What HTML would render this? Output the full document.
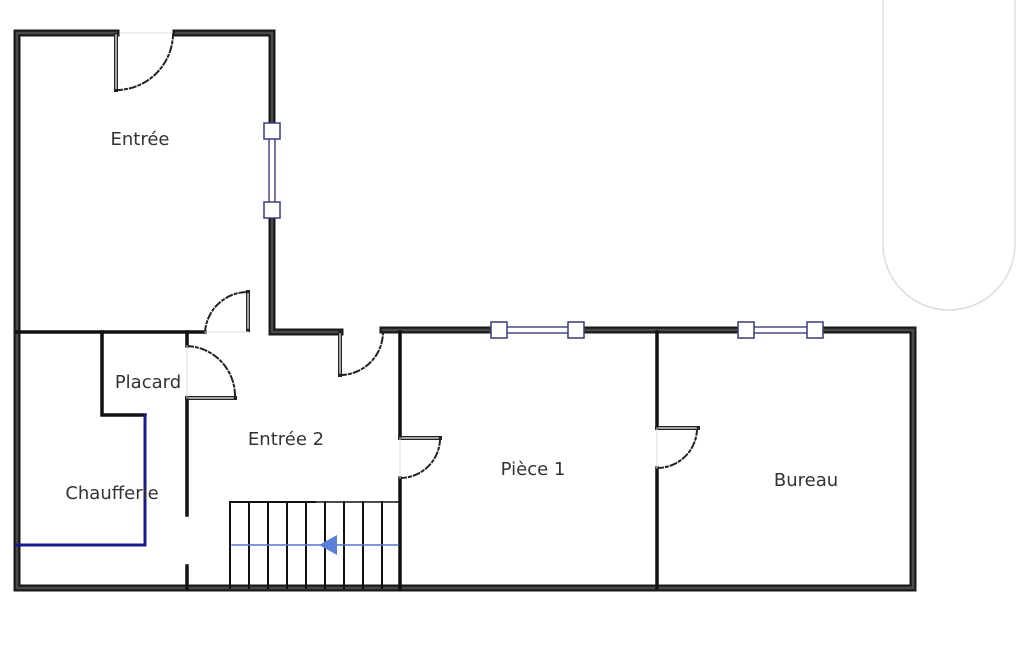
<!DOCTYPE html>
<html><head><meta charset="utf-8"><style>
html,body{margin:0;padding:0;background:#fff;}
svg{display:block;}
text{font-family:"DejaVu Sans","Liberation Sans",sans-serif;font-size:18px;fill:#333;}
</style></head><body>
<svg width="1025" height="650" viewBox="0 0 1025 650" xmlns="http://www.w3.org/2000/svg">
<rect width="1025" height="650" fill="#fff"/>
<path d="M883,-5 L883,244 A66,66 0 0 0 1015,244 L1015,-5" fill="#fff" stroke="#ddd" stroke-width="1.5"/>
<g fill="none" stroke-linecap="square">
<g stroke="#1a1a1a" stroke-width="7">
<polyline points="116,33 17,33 17,588 913,588 913,330 815,330"/>
<line x1="745" y1="330" x2="575" y2="330"/>
<line x1="490" y1="330" x2="383" y2="330"/>
<polyline points="176,33 272,33 272,130"/>
<polyline points="272,210 272,332 340,332"/>
</g>
<g stroke="#4a4a4a" stroke-width="2.5">
<polyline points="116,33 17,33 17,588 913,588 913,330 815,330"/>
<line x1="745" y1="330" x2="575" y2="330"/>
<line x1="490" y1="330" x2="383" y2="330"/>
<polyline points="176,33 272,33 272,130"/>
<polyline points="272,210 272,332 340,332"/>
</g>
<g stroke="#111" stroke-width="3.5">
<line x1="17" y1="332" x2="205" y2="332"/>
<polyline points="102,332 102,415 145,415"/>
<line x1="187" y1="332" x2="187" y2="346"/>
<line x1="187" y1="398" x2="187" y2="515"/>
<line x1="187" y1="566" x2="187" y2="588"/>
<line x1="400" y1="332" x2="400" y2="438"/>
<line x1="400" y1="478" x2="400" y2="588"/>
<line x1="657" y1="332" x2="657" y2="428"/>
<line x1="657" y1="468" x2="657" y2="588"/>
</g>
<polyline points="145,415 145,545 17,545" stroke="#1a1a90" stroke-width="3"/>
<g stroke="#222" stroke-width="4">
<line x1="116" y1="35" x2="116" y2="90"/>
<line x1="248" y1="292" x2="248" y2="330"/>
<line x1="340" y1="332" x2="340" y2="375"/>
<line x1="187" y1="398" x2="235" y2="398"/>
<line x1="400" y1="438" x2="440" y2="438"/>
<line x1="657" y1="428" x2="698" y2="428"/>
</g>
<g stroke="#ccc" stroke-width="1.5">
<line x1="116" y1="90" x2="116" y2="35"/>
<line x1="248" y1="294" x2="248" y2="328"/>
<line x1="340" y1="334" x2="340" y2="373"/>
<line x1="189" y1="398" x2="233" y2="398"/>
<line x1="402" y1="438" x2="438" y2="438"/>
<line x1="659" y1="428" x2="696" y2="428"/>
</g>
<g stroke="#222" stroke-width="2" stroke-dasharray="6,3,2,3">
<path d="M116,90 A57,57 0 0 0 173,35"/>
<path d="M205,332 A43,43 0 0 1 248,292"/>
<path d="M340,375 A43,43 0 0 0 383,332"/>
<path d="M187,346 A50,50 0 0 1 235,396"/>
<path d="M400,478 A40,40 0 0 0 440,440"/>
<path d="M657,468 A40,40 0 0 0 697,430"/>
</g>
<g stroke="#ddd" stroke-width="1">
<line x1="120" y1="33" x2="172" y2="33"/>
<line x1="205" y1="332" x2="248" y2="332"/>
<line x1="187" y1="346" x2="187" y2="398"/>
<line x1="400" y1="438" x2="400" y2="478"/>
<line x1="657" y1="428" x2="657" y2="468"/>
</g>
<g stroke="#4a4a8a" stroke-width="1.5">
<line x1="269" y1="130" x2="269" y2="210"/><line x1="275" y1="130" x2="275" y2="210"/>
<line x1="490" y1="327" x2="575" y2="327"/><line x1="490" y1="333" x2="575" y2="333"/>
<line x1="745" y1="327" x2="815" y2="327"/><line x1="745" y1="333" x2="815" y2="333"/>
</g>
<g fill="#fff" stroke="#3a3a7a" stroke-width="1.5">
<rect x="264" y="123" width="16" height="16"/><rect x="264" y="202" width="16" height="16"/>
<rect x="491" y="322" width="16" height="16"/><rect x="568" y="322" width="16" height="16"/>
<rect x="738" y="322" width="16" height="16"/><rect x="807" y="322" width="16" height="16"/>
</g>
<g stroke="#111" stroke-width="2">
<line x1="230" y1="502" x2="315" y2="502"/>
<line x1="315" y1="502" x2="400" y2="502" stroke-width="1.5"/>
<line x1="230" y1="502" x2="230" y2="588"/>
<line x1="249" y1="502" x2="249" y2="588"/>
<line x1="268" y1="502" x2="268" y2="588"/>
<line x1="287" y1="502" x2="287" y2="588"/>
<line x1="306" y1="502" x2="306" y2="588"/>
<line x1="325" y1="502" x2="325" y2="588"/>
<line x1="344" y1="502" x2="344" y2="588"/>
<line x1="363" y1="502" x2="363" y2="588"/>
<line x1="382" y1="502" x2="382" y2="588"/>
</g>
<line x1="232" y1="545" x2="398" y2="545" stroke="#5577cc" stroke-width="1.5"/>
</g>
<polygon points="319,545 337,535 337,555" fill="#5b80d8"/>
<text x="140" y="145" text-anchor="middle">Entrée</text>
<text x="148" y="388" text-anchor="middle">Placard</text>
<text x="286" y="445" text-anchor="middle">Entrée 2</text>
<text x="112" y="499" text-anchor="middle">Chaufferie</text>
<text x="533" y="475" text-anchor="middle">Pièce 1</text>
<text x="806" y="486" text-anchor="middle">Bureau</text>
</svg>
</body></html>
